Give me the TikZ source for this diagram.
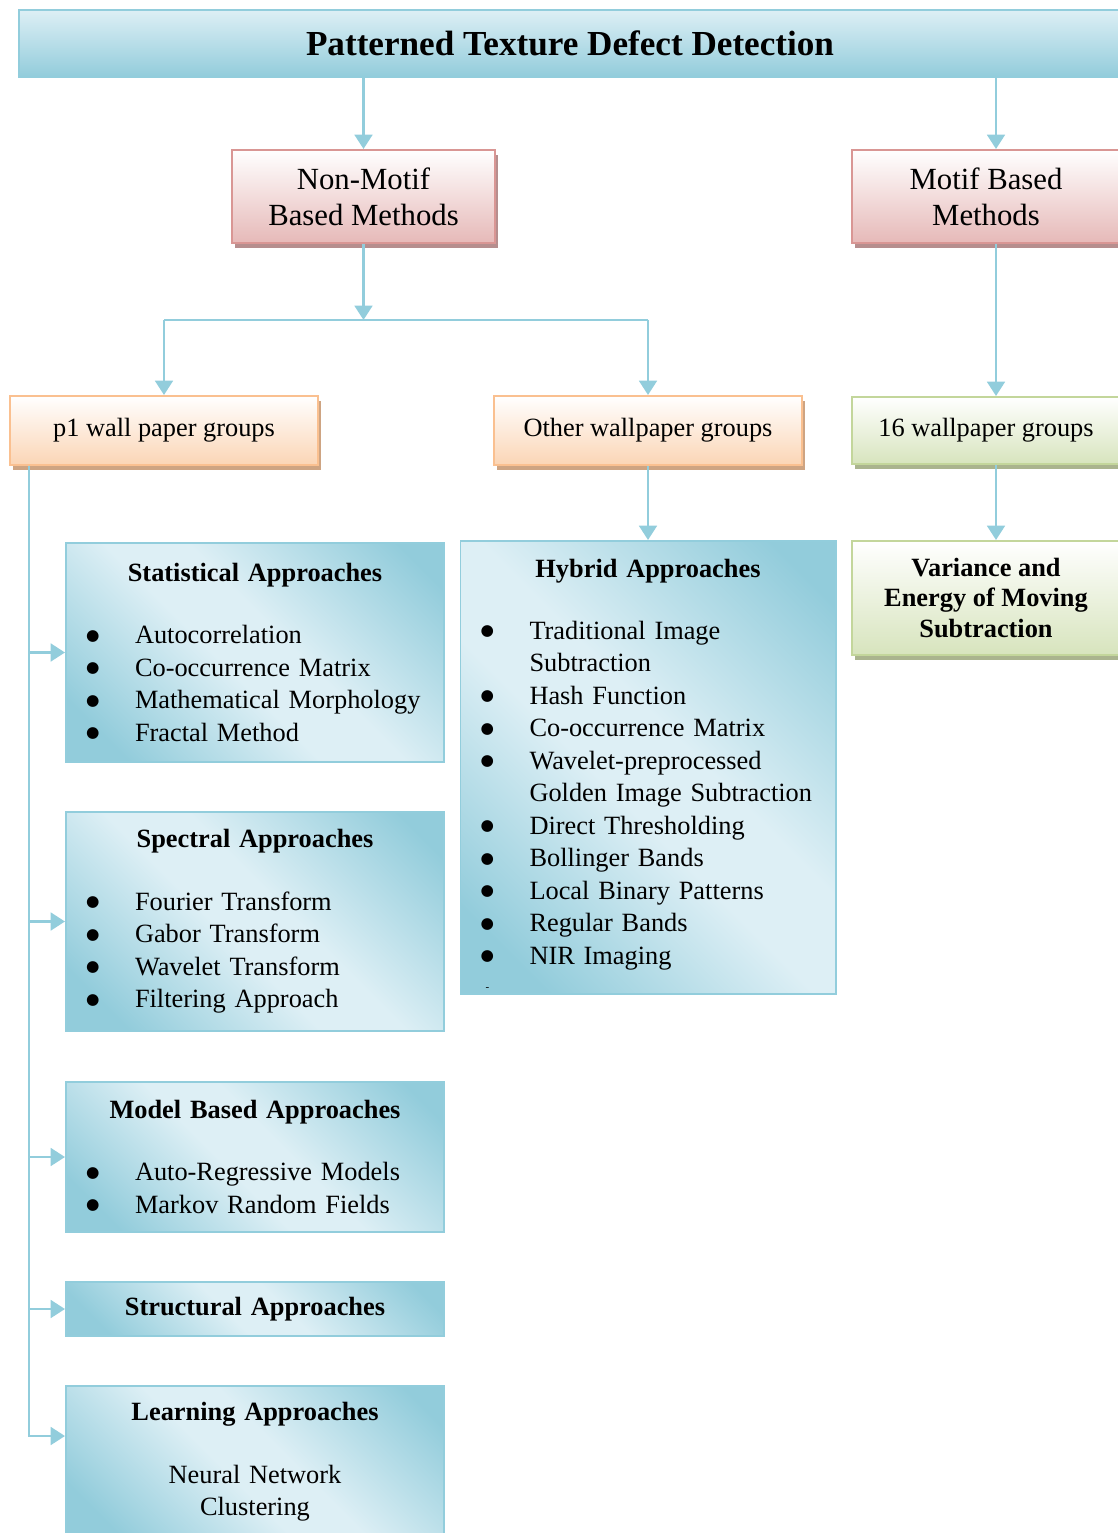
\documentclass[tikz,border=0pt]{standalone}
\usepackage{fontspec}
\setmainfont{Liberation Serif}
\newfontfamily\symfont{DejaVu Sans}
\usetikzlibrary{positioning}
\usetikzlibrary{arrows.meta}
\usetikzlibrary{shadows}

\definecolor{lineblue}{RGB}{146,205,220}
\definecolor{blueL}{RGB}{221,239,245}
\definecolor{blueD}{RGB}{146,204,219}
\definecolor{pinkline}{RGB}{217,150,148}
\definecolor{pinkfill}{RGB}{230,185,184}
\definecolor{pinkshade}{RGB}{182,142,142}
\definecolor{orangeline}{RGB}{250,192,144}
\definecolor{orangefill}{RGB}{251,213,181}
\definecolor{orangeshade}{RGB}{206,164,130}
\definecolor{greenline}{RGB}{195,214,155}
\definecolor{greenfill}{RGB}{215,228,189}
\definecolor{greenshade}{RGB}{170,180,142}

\pgfdeclarehorizontalshading{approachshade}{100bp}{color(0bp)=(blueD); color(22bp)=(blueD); color(45bp)=(blueL); color(55bp)=(blueL); color(80bp)=(blueD); color(100bp)=(blueD)}

\newcommand{\bdot}{\raisebox{1.6pt}{\symfont\fontsize{7}{7}\selectfont ●}}
\newcommand{\bitem}[1]{\mbox{\makebox[0.784cm][l]{\bdot}#1}}
\newcommand{\bcont}[1]{\mbox{\hspace*{0.784cm}#1}}

\begin{document}
\begin{tikzpicture}[node distance=2cm,on grid,%
  headbox/.style={draw=lineblue,line width=0.9pt,top color=blueL,bottom color=blueD,%
    minimum width=17.632cm,minimum height=1.072cm,font=\fontsize{16}{19}\selectfont\bfseries},
  pinkbox/.style={draw=pinkline,line width=0.9pt,top color=white,bottom color=pinkfill,%
    drop shadow={shadow xshift=0.05cm,shadow yshift=-0.08cm,fill=pinkshade,opacity=1},%
    minimum height=1.488cm,align=center,font=\fontsize{14}{16.4}\selectfont},
  orangebox/.style={draw=orangeline,line width=0.9pt,top color=white,bottom color=orangefill,%
    drop shadow={shadow xshift=0.05cm,shadow yshift=-0.08cm,fill=orangeshade,opacity=1},%
    minimum width=4.928cm,minimum height=1.104cm,font=\fontsize{12}{14.8}\selectfont},
  greenbox/.style={draw=greenline,line width=0.9pt,top color=white,bottom color=greenfill,%
    drop shadow={shadow xshift=0.05cm,shadow yshift=-0.08cm,fill=greenshade,opacity=1},%
    minimum width=4.288cm,align=center,font=\fontsize{12}{14.1}\selectfont},
  approach/.style={draw=lineblue,line width=0.9pt,shading=approachshade,shading angle=45,%
    inner xsep=0.32cm,inner ysep=0.1cm,text width=5.408cm,minimum height=#1,%
    align=left,font=\fontsize{12}{14.8}\selectfont},
  wire/.style={draw=lineblue,line width=1.3pt},
  link/.style={wire,-{Triangle[width=8pt,length=6.5pt]}}]

  \clip (0,0) rectangle (17.888,-24.528);

  % top levels
  \node[headbox] (title) at (9.12,-0.696) {Patterned Texture Defect Detection};
  \node[pinkbox,minimum width=4.208cm] (nonmotif) [below left=2.448cm and 3.304cm of title]
    {Non-Motif\\Based Methods};
  \node[pinkbox,minimum width=4.288cm] (motif) [right=9.96cm of nonmotif]
    {Motif Based\\Methods};

  % wallpaper groups
  \node[orangebox] (p1)    [below left=3.744cm and 3.192cm of nonmotif] {p1 wall paper groups};
  \node[orangebox] (other) [right=7.744cm of p1]                        {Other wallpaper groups};
  \node[greenbox,minimum height=1.072cm] (sixteen) [right=5.408cm of other] {16 wallpaper groups};
  \node[greenbox,minimum height=1.824cm,font=\fontsize{12}{14.1}\selectfont\bfseries] (variance)
    [below=2.68cm of sixteen] {Variance and\\Energy of Moving\\Subtraction};

  % approaches
  \node[approach=3.504cm] (stat) [below right=3.552cm and 1.456cm of p1]
    {\centerline{\textbf{Statistical Approaches}}\vspace{13.5pt}
     \bitem{Autocorrelation}\\
     \bitem{Co-occurrence Matrix}\\
     \bitem{Mathematical Morphology}\\
     \bitem{Fractal Method}};
  \node[approach=3.504cm] (spec) [below=4.304cm of stat]
    {\centerline{\textbf{Spectral Approaches}}\vspace{13.5pt}
     \bitem{Fourier Transform}\\
     \bitem{Gabor Transform}\\
     \bitem{Wavelet Transform}\\
     \bitem{Filtering Approach}};
  \node[approach=2.4cm] (model) [below=3.768cm of spec]
    {\centerline{\textbf{Model Based Approaches}}\vspace{13.5pt}
     \bitem{Auto-Regressive Models}\\
     \bitem{Markov Random Fields}};
  \node[approach=0.864cm,align=center] (struct) [below=2.432cm of model]
    {\textbf{Structural Approaches}};
  \node[approach=2.432cm,align=center] (learn) [below=2.448cm of struct]
    {\textbf{Learning Approaches}\\[13.5pt]Neural Network\\Clustering};
  \node[approach=7.248cm,text width=5.36cm,text height=0.476cm,text depth=6.572cm] (hybrid)
    [below=5.392cm of other]
    {\centerline{\textbf{Hybrid Approaches}}\vspace{13.5pt}
     \bitem{Traditional Image}\\
     \bcont{Subtraction}\\
     \bitem{Hash Function}\\
     \bitem{Co-occurrence Matrix}\\
     \bitem{Wavelet-preprocessed}\\
     \bcont{Golden Image Subtraction}\\
     \bitem{Direct Thresholding}\\
     \bitem{Bollinger Bands}\\
     \bitem{Local Binary Patterns}\\
     \bitem{Regular Bands}\\
     \bitem{NIR Imaging}\\[-3pt]
     \mbox{\hspace*{0.08cm}\tiny -}};

  % connectors
  \coordinate (motifaxis) at ([xshift=0.16cm]motif.center);
  \coordinate (split) at ([yshift=-1.216cm]nonmotif.south);
  \coordinate (trunk) at ([xshift=0.32cm]p1.south west);

  \draw[link] (title.south -| nonmotif.north) -- (nonmotif.north);
  \draw[link] (title.south -| motifaxis) -- (motif.north -| motifaxis);
  \draw[link] (motif.south -| motifaxis) -- (sixteen.north -| motifaxis);
  \draw[link] (sixteen.south -| motifaxis) -- (variance.north -| motifaxis);

  \draw[link] (nonmotif.south) -- (split);
  \draw[wire] (p1.north |- split) -- (other.north |- split);
  \draw[link] (p1.north |- split) -- (p1.north);
  \draw[link] (other.north |- split) -- (other.north);
  \draw[link] (other.south) -- (other.south |- hybrid.north);

  \foreach \n in {stat,spec,model,struct}
    \draw[link] (trunk) |- (\n.west);
  \draw[link] (trunk) |- ([yshift=0.416cm]learn.west);
\end{tikzpicture}
\end{document}
